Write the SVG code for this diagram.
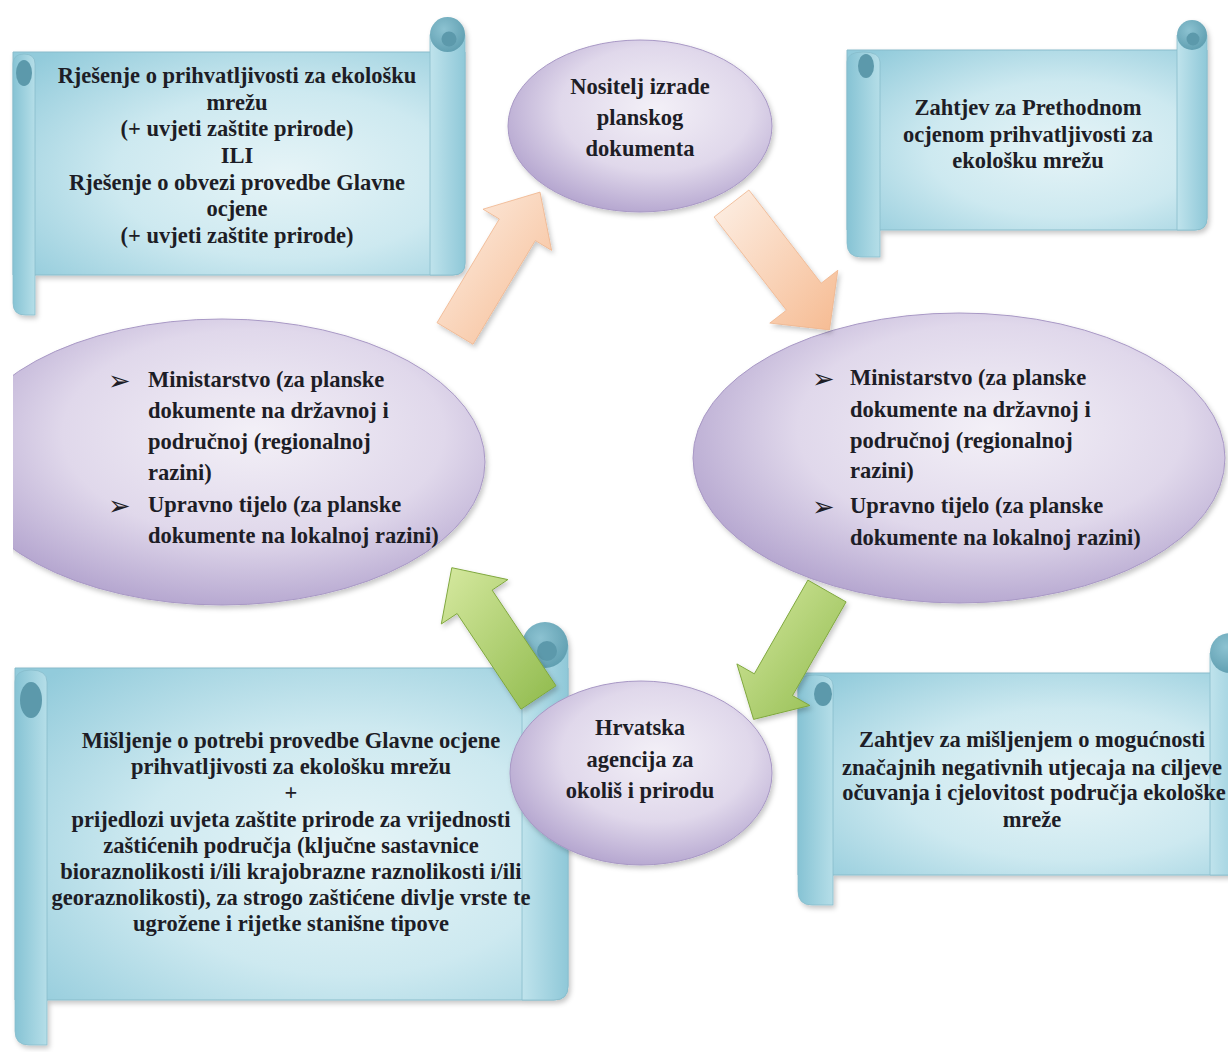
<svg xmlns="http://www.w3.org/2000/svg" width="1228" height="1052" viewBox="0 0 1228 1052">
<defs>
  <radialGradient id="gBody" cx="0.6" cy="0.55" r="0.75">
    <stop offset="0" stop-color="#e6f4f7"/>
    <stop offset="0.5" stop-color="#cde9f0"/>
    <stop offset="1" stop-color="#92cbdb"/>
  </radialGradient>
  <linearGradient id="gStrip" x1="0" y1="0" x2="1" y2="0">
    <stop offset="0" stop-color="#86c3d4"/>
    <stop offset="1" stop-color="#b5dee8"/>
  </linearGradient>
  <linearGradient id="gStripR" x1="0" y1="0" x2="1" y2="0">
    <stop offset="0" stop-color="#bfe3ec"/>
    <stop offset="1" stop-color="#8fc8d8"/>
  </linearGradient>
  <radialGradient id="gCurl" cx="0.4" cy="0.35" r="0.7">
    <stop offset="0" stop-color="#8cc2d1"/>
    <stop offset="1" stop-color="#5f9eb0"/>
  </radialGradient>
  <radialGradient id="gEll" cx="0.56" cy="0.4" r="0.66">
    <stop offset="0" stop-color="#f3f0f7"/>
    <stop offset="0.55" stop-color="#e0d8eb"/>
    <stop offset="1" stop-color="#ae9ecb"/>
  </radialGradient>
  <linearGradient id="gOrange" x1="0" y1="0" x2="1" y2="1">
    <stop offset="0" stop-color="#fdf0e6"/>
    <stop offset="1" stop-color="#f6bb92"/>
  </linearGradient>
  <linearGradient id="gGreen" x1="0" y1="0" x2="1" y2="1">
    <stop offset="0" stop-color="#d6e9a0"/>
    <stop offset="1" stop-color="#8fba4c"/>
  </linearGradient>
  <filter id="sh" x="-10%" y="-10%" width="120%" height="125%">
    <feDropShadow dx="2" dy="3" stdDeviation="2.5" flood-color="#000" flood-opacity="0.22"/>
  </filter>
  <clipPath id="clipL">
    <rect x="13" y="0" width="1215" height="1052"/>
  </clipPath>
  <style>
    .body{fill:url(#gBody);stroke:#88bccb;stroke-width:1}
    .strip{fill:url(#gStrip);stroke:#88bccb;stroke-width:0.8}
    .stripr{fill:url(#gStripR);stroke:#88bccb;stroke-width:0.8}
    .curl{fill:url(#gCurl)}
    .blob{fill:#5c99ab}
    .ell{fill:url(#gEll);stroke:#a898c5;stroke-width:1}
    .orange{fill:url(#gOrange);stroke:#efb48c;stroke-width:0.8}
    .green{fill:url(#gGreen);stroke:#80a83f;stroke-width:1}
    text{font-family:"Liberation Serif","Times New Roman",serif;font-weight:bold;font-size:22.5px;fill:#1d1d26}
    .c{text-anchor:middle}
    .bul{font-family:"DejaVu Sans",sans-serif;font-size:27px;font-weight:bold}
  </style>
</defs>
<rect width="1228" height="1052" fill="#ffffff"/>

<!-- Top-left scroll -->
<g id="scroll-tl">
  <g filter="url(#sh)">
    <path class="body" d="M13 52 H465 V263 Q465 275 453 275 H13 Z"/>
    <path class="stripr" d="M430 34.5 H465 V263 Q465 275 453 275 H430 Z"/>
    <circle class="curl" cx="447.5" cy="34.5" r="17.5"/>
    <circle class="blob" cx="449" cy="39" r="7.5"/>
    <path class="strip" d="M13 64 Q13 54 24 54 Q35 54 35 64 V315 H25 Q13 315 13 303 Z"/>
    <ellipse class="blob" cx="24" cy="73" rx="8" ry="13"/>
  </g>
  <text class="c" x="237" y="83">Rješenje o prihvatljivosti za ekološku</text>
  <text class="c" x="237" y="110">mrežu</text>
  <text class="c" x="237" y="136">(+ uvjeti zaštite prirode)</text>
  <text class="c" x="237" y="163">ILI</text>
  <text class="c" x="237" y="190">Rješenje o obvezi provedbe Glavne</text>
  <text class="c" x="237" y="216">ocjene</text>
  <text class="c" x="237" y="243">(+ uvjeti zaštite prirode)</text>
</g>

<!-- Top-right scroll -->
<g id="scroll-tr">
  <g filter="url(#sh)">
    <path class="body" d="M847 50 H1207 V218 Q1207 230 1195 230 H847 Z"/>
    <path class="stripr" d="M1177 35 H1207 V218 Q1207 230 1195 230 H1177 Z"/>
    <circle class="curl" cx="1192" cy="35" r="15"/>
    <circle class="blob" cx="1193" cy="39" r="6.5"/>
    <path class="strip" d="M847 62 Q847 52 863 52 Q880 52 880 62 V257 H861 Q847 257 847 243 Z"/>
    <ellipse class="blob" cx="866" cy="66" rx="8" ry="12"/>
  </g>
  <text class="c" x="1028" y="115">Zahtjev za Prethodnom</text>
  <text class="c" x="1028" y="142">ocjenom prihvatljivosti za</text>
  <text class="c" x="1028" y="168">ekološku mrežu</text>
</g>

<!-- Bottom-left scroll -->
<g id="scroll-bl">
  <g filter="url(#sh)">
    <path class="body" d="M15 668 H568 V986 Q568 1000 554 1000 H15 Z"/>
    <path class="stripr" d="M522 645 H568 V986 Q568 1000 554 1000 H522 Z"/>
    <circle class="curl" cx="545" cy="645" r="23"/>
    <circle class="blob" cx="547" cy="651" r="10"/>
    <path class="strip" d="M15 682 Q15 670 31 670 Q47 670 47 682 V1045 H29 Q15 1045 15 1031 Z"/>
    <ellipse class="blob" cx="31" cy="700" rx="11" ry="18"/>
  </g>
  <text class="c" x="291" y="748">Mišljenje o potrebi provedbe Glavne ocjene</text>
  <text class="c" x="291" y="774">prihvatljivosti za ekološku mrežu</text>
  <text class="c" x="291" y="800">+</text>
  <text class="c" x="291" y="827">prijedlozi uvjeta zaštite prirode za vrijednosti</text>
  <text class="c" x="291" y="853">zaštićenih područja (ključne sastavnice</text>
  <text class="c" x="291" y="879">bioraznolikosti i/ili krajobrazne raznolikosti i/ili</text>
  <text class="c" x="291" y="905">georaznolikosti), za strogo zaštićene divlje vrste te</text>
  <text class="c" x="291" y="931">ugrožene i rijetke stanišne tipove</text>
</g>

<!-- Bottom-right scroll -->
<g id="scroll-br">
  <g filter="url(#sh)">
    <path class="body" d="M798 673 H1250 V861 Q1250 875 1236 875 H798 Z"/>
    <path class="stripr" d="M1210 653 H1250 V875 H1210 Z"/>
    <circle class="curl" cx="1230" cy="653" r="20"/>
    <path class="strip" d="M798 685 Q798 675 815 675 Q833 675 833 685 V905 H812 Q798 905 798 891 Z"/>
    <ellipse class="blob" cx="823" cy="694" rx="9" ry="12"/>
  </g>
  <text class="c" x="1032" y="747">Zahtjev za mišljenjem o mogućnosti</text>
  <text class="c" x="1032" y="775">značajnih negativnih utjecaja na ciljeve</text>
  <text class="c" x="1034" y="800">očuvanja i cjelovitost područja ekološke</text>
  <text class="c" x="1032" y="827">mreže</text>
</g>

<!-- Top ellipse -->
<g id="node-nositelj">
  <ellipse class="ell" cx="640" cy="126" rx="132" ry="86" filter="url(#sh)"/>
  <text class="c" x="640" y="94">Nositelj izrade</text>
  <text class="c" x="640" y="125">planskog</text>
  <text class="c" x="640" y="156">dokumenta</text>
</g>

<!-- Left ellipse -->
<g id="node-left">
  <g clip-path="url(#clipL)">
    <ellipse class="ell" cx="222" cy="462" rx="263" ry="143" filter="url(#sh)"/>
  </g>
  <text class="bul" x="108" y="390">➢</text>
  <text x="148" y="387">Ministarstvo (za planske</text>
  <text x="148" y="418">dokumente na državnoj i</text>
  <text x="148" y="449">područnoj (regionalnoj</text>
  <text x="148" y="480">razini)</text>
  <text class="bul" x="108" y="515">➢</text>
  <text x="148" y="512">Upravno tijelo (za planske</text>
  <text x="148" y="543">dokumente na lokalnoj razini)</text>
</g>

<!-- Right ellipse -->
<g id="node-right">
  <ellipse class="ell" cx="959" cy="458" rx="266" ry="145" filter="url(#sh)"/>
  <text class="bul" x="812" y="388">➢</text>
  <text x="850" y="385">Ministarstvo (za planske</text>
  <text x="850" y="417">dokumente na državnoj i</text>
  <text x="850" y="448">područnoj (regionalnoj</text>
  <text x="850" y="478">razini)</text>
  <text class="bul" x="812" y="516">➢</text>
  <text x="850" y="513">Upravno tijelo (za planske</text>
  <text x="850" y="545">dokumente na lokalnoj razini)</text>
</g>

<!-- Bottom ellipse -->
<g id="node-hrvatska">
  <ellipse class="ell" cx="641" cy="773" rx="131" ry="92" filter="url(#sh)"/>
  <text class="c" x="640" y="735">Hrvatska</text>
  <text class="c" x="640" y="767">agencija za</text>
  <text class="c" x="640" y="798">okoliš i prirodu</text>
</g>

<!-- Connectors -->
<g id="connectors" filter="url(#sh)">
  <polygon class="orange" points="473,344.3 535.3,240.6 551.6,250.4 540,192.1 483,209.2 499.3,219 437,322.7"/>
  <polygon class="orange" points="748.9,190 821.2,283.2 837.8,270.3 829.5,329.9 769.8,323.1 786.4,310.2 714.1,217"/>
  <polygon class="green" points="807.9,580.1 754.3,673.8 736.9,663.9 753.6,719.4 809.9,705.5 792.5,695.6 846.1,601.9"/>
  <polygon class="green" points="556,685.8 492.1,590.1 507.9,579.6 451.8,567.7 441.3,624 457.1,613.5 521,709.2"/>
</g>
</svg>
